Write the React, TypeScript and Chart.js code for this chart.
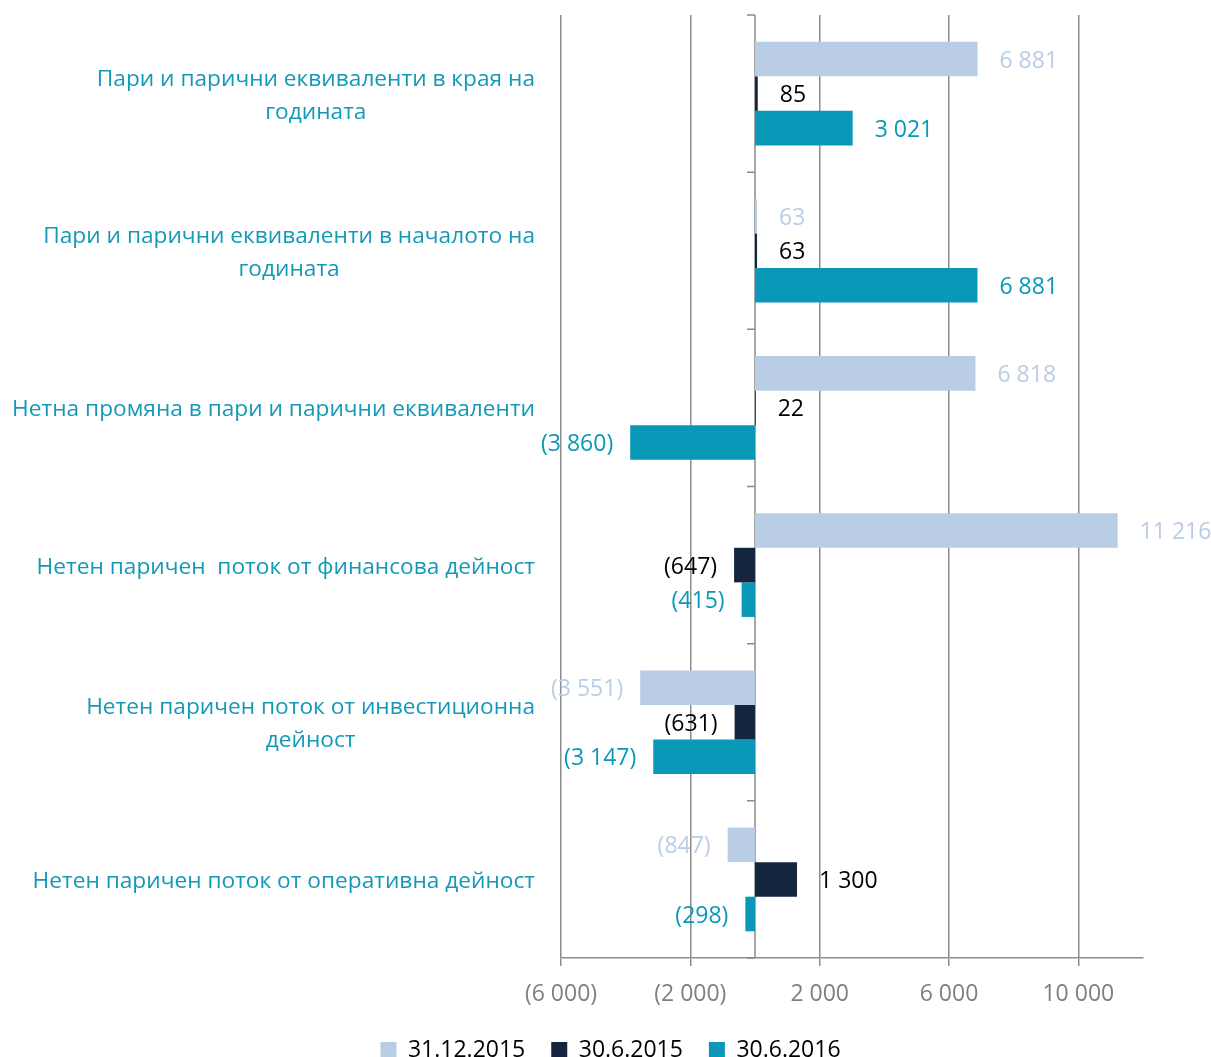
import React, { useEffect, useRef } from "react";
import { Chart, registerables } from "chart.js";

Chart.register(...registerables);

const categories: string[][] = [
  ["Пари и парични еквиваленти в края на", "годината"],
  ["Пари и парични еквиваленти в началото на", "годината"],
  ["Нетна промяна в пари и парични еквиваленти"],
  ["Нетен паричен  поток от финансова дейност"],
  ["Нетен паричен поток от инвестиционна", "дейност"],
  ["Нетен паричен поток от оперативна дейност"],
];

const seriesNames = ["31.12.2015", "30.6.2015", "30.6.2016"];
const values31122015 = [6881, 63, 6818, 11216, -3551, -847];
const values3062015 = [85, 63, 22, -647, -631, 1300];
const values3062016 = [3021, 6881, -3860, -415, -3147, -298];

const xTickValues = [-6000, -2000, 2000, 6000, 10000];
const xMin = -6000;
const xMax = 12000;

const FONT = "'Open Sans', 'Noto Sans', sans-serif";
const GRID = "#8c8c8c";
const barColors = ["#B9CDE5", "#13253F", "#0A98B8"];
const labelColors = ["#B9CDE5", "#000000", "#0A98B8"];
const CAT_COLOR = "#1399B8";

const LEFT_PAD = 10;

function fmt(v: number): string {
  const s = Math.abs(v)
    .toString()
    .replace(/\B(?=(\d{3})+(?!\d))/g, " ");
  return v < 0 ? `(${s})` : s;
}

const zeroAxisPlugin = {
  id: "zeroAxis",
  beforeDatasetsDraw(chart: any) {
    const { ctx, chartArea, scales } = chart;
    const x = scales.x;
    const y = scales.y;
    const x0 = x.getPixelForValue(0);
    ctx.save();
    ctx.strokeStyle = GRID;
    ctx.lineWidth = 1.5;
    ctx.beginPath();
    ctx.moveTo(x0, chartArea.top);
    ctx.lineTo(x0, chartArea.bottom);
    for (let i = 0; i <= categories.length; i++) {
      const yy = y.getPixelForValue(i - 0.5);
      ctx.moveTo(x0 - 8, yy);
      ctx.lineTo(x0, yy);
    }
    ctx.stroke();
    ctx.restore();
  },
};

const labelsPlugin = {
  id: "labelsPlugin",
  afterDatasetsDraw(chart: any) {
    const { ctx } = chart;
    ctx.save();
    ctx.font = `23px ${FONT}`;
    ctx.textBaseline = "middle";
    chart.data.datasets.forEach((ds: any, d: number) => {
      const meta = chart.getDatasetMeta(d);
      meta.data.forEach((el: any, i: number) => {
        const v = ds.data[i] as number;
        ctx.fillStyle = labelColors[d];
        if (v >= 0) {
          ctx.textAlign = "left";
          ctx.fillText(fmt(v), el.x + 22, el.y + 2);
        } else {
          ctx.textAlign = "right";
          ctx.fillText(fmt(v), el.x - 17, el.y + 2);
        }
      });
    });
    ctx.restore();
  },
  afterDraw(chart: any) {
    const { ctx, chartArea, scales } = chart;
    const y = scales.y;
    ctx.save();
    ctx.font = `22.7px ${FONT}`;
    ctx.fillStyle = CAT_COLOR;
    ctx.textBaseline = "middle";
    ctx.textAlign = "center";
    const right = chartArea.left - 26;
    const lineH = 33;
    categories.forEach((lines, i) => {
      const cy = y.getPixelForValue(i) + 2;
      const maxW = Math.max(...lines.map((l) => ctx.measureText(l).width));
      const cx = right - maxW / 2;
      lines.forEach((line, j) => {
        ctx.fillText(line, cx, cy + (j - (lines.length - 1) / 2) * lineH);
      });
    });
    ctx.restore();
  },
};

export default function App() {
  const canvasRef = useRef<HTMLCanvasElement | null>(null);

  useEffect(() => {
    if (!canvasRef.current) return;
    const seriesValues = [values31122015, values3062015, values3062016];
    const chart = new Chart(canvasRef.current, {
      type: "bar",
      data: {
        labels: categories.map((c) => c.join(" ")),
        datasets: seriesNames.map((name, i) => ({
          label: name,
          data: seriesValues[i],
          backgroundColor: barColors[i],
          borderWidth: 0,
          barPercentage: 1,
          categoryPercentage: 0.66,
        })),
      },
      options: {
        indexAxis: "y",
        animation: false,
        responsive: true,
        maintainAspectRatio: false,
        layout: { padding: { top: 15, right: 0, left: LEFT_PAD, bottom: -14.5 } },
        plugins: {
          legend: {
            position: "bottom",
            labels: {
              boxWidth: 16,
              boxHeight: 16,
              padding: 26,
              color: "#000000",
              font: { size: 23, family: FONT },
            },
          },
          tooltip: { enabled: false },
        },
        scales: {
          x: {
            type: "linear",
            min: xMin,
            max: xMax,
            afterBuildTicks: (scale: any) => {
              scale.ticks = xTickValues.map((v) => ({ value: v }));
            },
            afterFit: (scale: any) => {
              scale.height = 54.5;
              scale.paddingRight = 68;
            },
            ticks: {
              color: "#7f7f7f",
              font: { size: 23, family: FONT },
              padding: 15,
              callback: (v: any) => fmt(Number(v)),
            },
            grid: {
              color: GRID,
              lineWidth: 1.5,
              tickLength: 8,
              drawTicks: true,
            },
            border: { display: true, color: GRID, width: 1.5 },
          },
          y: {
            type: "category",
            afterFit: (scale: any) => {
              scale.width = 561 - LEFT_PAD;
            },
            ticks: { display: false },
            grid: { display: false },
            border: { display: false },
          },
        },
      },
      plugins: [zeroAxisPlugin, labelsPlugin],
    } as any);
    return () => chart.destroy();
  }, []);

  return (
    <div
      style={{
        position: "fixed",
        left: 0,
        top: 0,
        width: 1211,
        height: 1057,
        background: "#ffffff",
      }}
    >
      <canvas ref={canvasRef} />
    </div>
  );
}
